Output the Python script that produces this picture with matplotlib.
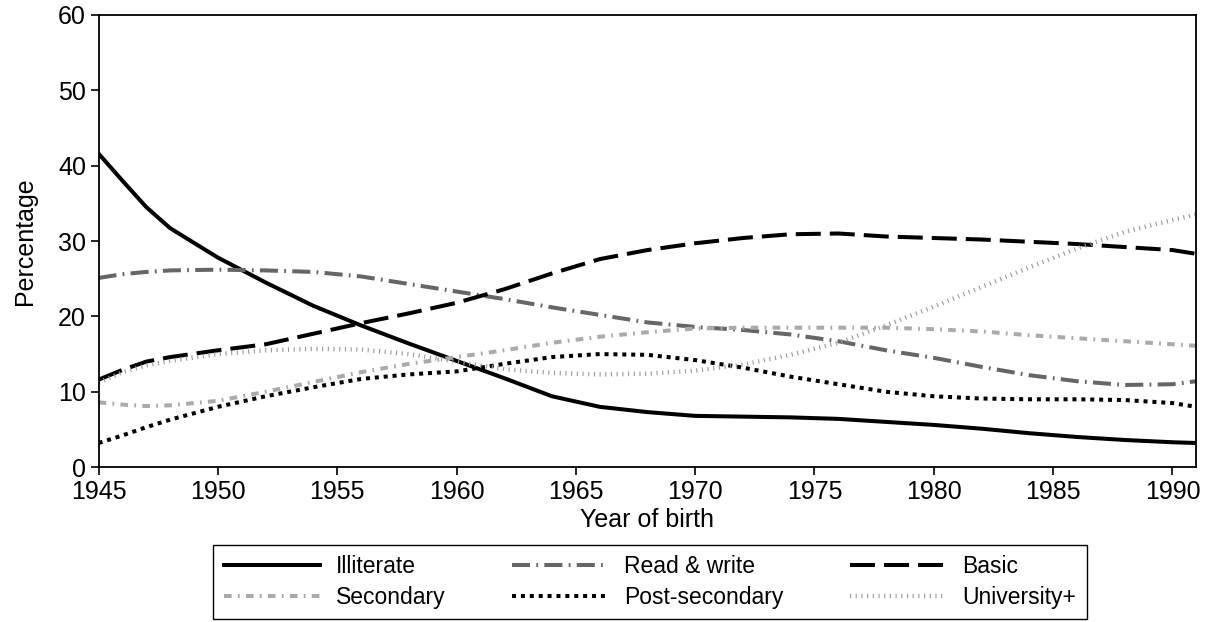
import matplotlib
matplotlib.use("Agg")
import matplotlib.pyplot as plt

plt.rcParams["font.family"] = ["Liberation Sans", "DejaVu Sans"]
plt.rcParams["lines.scale_dashes"] = False

years = [1945, 1946, 1947, 1948, 1950, 1952, 1954, 1956, 1958, 1960, 1962,
         1964, 1966, 1968, 1970, 1972, 1974, 1976, 1978, 1980, 1982, 1984,
         1986, 1988, 1990, 1991]

illiterate = [41.6, 38.0, 34.5, 31.7, 27.8, 24.5, 21.4, 18.8, 16.4, 14.1, 11.8,
              9.4, 8.0, 7.3, 6.8, 6.7, 6.6, 6.4, 6.0, 5.6, 5.1, 4.5,
              4.0, 3.6, 3.3, 3.2]
read_write = [25.1, 25.6, 25.9, 26.1, 26.2, 26.1, 25.9, 25.3, 24.3, 23.3, 22.3,
              21.2, 20.2, 19.2, 18.6, 18.2, 17.6, 16.7, 15.5, 14.5, 13.3, 12.2,
              11.4, 10.9, 11.0, 11.4]
basic = [11.6, 12.9, 14.0, 14.6, 15.5, 16.3, 17.7, 19.1, 20.4, 21.8, 23.6,
         25.7, 27.6, 28.8, 29.7, 30.4, 30.9, 31.0, 30.6, 30.4, 30.2, 29.9,
         29.6, 29.2, 28.8, 28.3]
secondary = [8.6, 8.3, 8.1, 8.2, 8.8, 10.0, 11.3, 12.6, 13.7, 14.6, 15.5,
             16.5, 17.3, 17.9, 18.4, 18.5, 18.5, 18.5, 18.5, 18.3, 18.0, 17.5,
             17.1, 16.7, 16.3, 16.1]
post_secondary = [3.2, 4.2, 5.3, 6.3, 8.0, 9.4, 10.6, 11.7, 12.3, 12.7, 13.7,
                  14.6, 15.0, 14.9, 14.2, 13.2, 12.0, 11.0, 10.0, 9.4, 9.1, 9.0,
                  9.0, 8.9, 8.5, 8.0]
university = [11.2, 12.6, 13.5, 14.1, 15.0, 15.5, 15.7, 15.6, 15.0, 14.0, 13.0,
              12.5, 12.3, 12.4, 12.8, 13.6, 14.9, 16.5, 18.8, 21.3, 23.9, 26.5,
              29.0, 31.2, 32.8, 33.5]

x_ticks = [1945, 1950, 1955, 1960, 1965, 1970, 1975, 1980, 1985, 1990]
y_ticks = [0, 10, 20, 30, 40, 50, 60]

fig = plt.figure(figsize=(12.17, 6.22), dpi=100)
ax = fig.add_axes([0.081, 0.249, 0.902, 0.727])

l1, = ax.plot(years, illiterate, color="black", lw=2.9, label="Illiterate")
l2, = ax.plot(years, read_write, color="#666666", lw=2.9,
              dashes=(13, 4.5, 1.3, 4.5), label="Read & write")
l3, = ax.plot(years, basic, color="black", lw=2.9, dashes=(18, 6.5),
              label="Basic")
l4, = ax.plot(years, secondary, color="#aaaaaa", lw=2.9,
              dashes=(5.5, 4.5, 1.3, 4.5), label="Secondary")
l5, = ax.plot(years, post_secondary, color="black", lw=2.9, dashes=(2.9, 3.5),
              label="Post-secondary")
l6, = ax.plot(years, university, color="#999999", lw=3.2, dashes=(0.8, 3.3),
              label="University+")

ax.set_xlim(1945, 1991)
ax.set_ylim(0, 60)
ax.set_xticks(x_ticks)
ax.set_yticks(y_ticks)
ax.tick_params(labelsize=18, length=6, width=1.2, direction="out", pad=3)
for s in ax.spines.values():
    s.set_linewidth(1.3)
ax.set_xlabel("Year of birth", fontsize=18, labelpad=3)
ax.set_ylabel("Percentage", fontsize=18, labelpad=15)

handles = [l1, l4, l2, l5, l3, l6]
leg = fig.legend(handles=handles, loc="upper center", ncol=3,
                 bbox_to_anchor=(0.534, 0.124), borderaxespad=0,
                 fontsize=16.5, handlelength=4.2, columnspacing=2.9,
                 handletextpad=0.7, labelspacing=0.33, borderpad=0.45,
                 fancybox=False, edgecolor="black", framealpha=1)
leg.get_frame().set_linewidth(1.0)

plt.savefig("out.png", dpi=100)
